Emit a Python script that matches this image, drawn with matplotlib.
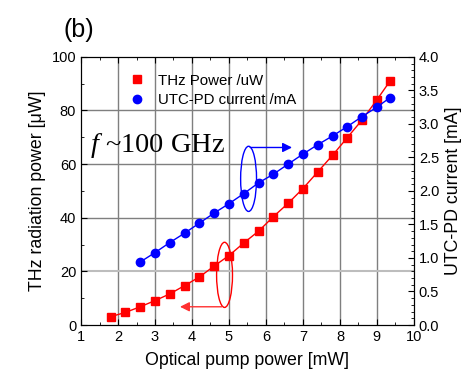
import matplotlib
matplotlib.use("Agg")
import matplotlib.pyplot as plt
from matplotlib.patches import Ellipse
from matplotlib.lines import Line2D

plt.rcParams['font.family'] = ['Liberation Sans', 'DejaVu Sans']
plt.rcParams['mathtext.fontset'] = 'custom'
plt.rcParams['mathtext.it'] = 'Liberation Serif:italic'
plt.rcParams['mathtext.rm'] = 'Liberation Serif'

# Data
thz_pump = [1.8, 2.2, 2.6, 3.0, 3.4, 3.8, 4.2, 4.6, 5.0, 5.4, 5.8, 6.2, 6.6, 7.0, 7.4, 7.8, 8.2, 8.6, 9.0, 9.35]
thz_power = [3.1, 4.7, 6.8, 9.1, 11.6, 14.7, 17.9, 22.0, 25.9, 30.6, 35.0, 40.4, 45.4, 50.9, 57.1, 63.3, 69.9, 76.5, 84.0, 90.9]
pd_pump = [2.6, 3.0, 3.4, 3.8, 4.2, 4.6, 5.0, 5.4, 5.8, 6.2, 6.6, 7.0, 7.4, 7.8, 8.2, 8.6, 9.0, 9.35]
pd_current = [0.94, 1.08, 1.23, 1.37, 1.52, 1.67, 1.81, 1.96, 2.12, 2.25, 2.40, 2.55, 2.69, 2.82, 2.96, 3.11, 3.25, 3.39]

x_ticks = list(range(1, 11))
y_ticks = [0, 20, 40, 60, 80, 100]
y2_ticks = [0.0, 0.5, 1.0, 1.5, 2.0, 2.5, 3.0, 3.5, 4.0]

fig = plt.figure(figsize=(4.63, 3.74), dpi=100)
ax = fig.add_axes([0.175, 0.131, 0.719, 0.717])
ax2 = ax.twinx()

ax.set_xlim(1, 10)
ax.set_ylim(0, 100)
ax2.set_ylim(0, 4.0)

# grid
for xv in x_ticks[1:-1]:
    ax.axvline(xv, color='#7f7f7f', lw=1.0, zorder=0)
for yv in y_ticks[1:-1]:
    ax.axhline(yv, color='#bdbdbd' if yv == 20 else '#7f7f7f', lw=1.5 if yv == 20 else 1.0, zorder=0)

ax.plot(thz_pump, thz_power, color='red', marker='s', ms=5.5, lw=1.0, zorder=3)
ax2.plot(pd_pump, pd_current, color='blue', marker='o', ms=6, lw=1.0, zorder=3)

ax.set_xticks(x_ticks)
ax.set_xticks([v + 0.5 for v in x_ticks[:-1]], minor=True)
ax.set_yticks(y_ticks)
ax.set_yticks([10, 30, 50, 70, 90], minor=True)
ax2.set_yticks(y2_ticks)
ax2.set_yticklabels(['%.1f' % v for v in y2_ticks])
ax2.set_yticks([i * 0.1 for i in range(41)], minor=True)

ax.tick_params(axis='both', which='both', direction='in', top=True, labelsize=10.5)
ax.tick_params(which='major', length=4)
ax.tick_params(which='minor', length=2.5)
ax.tick_params(axis='y', right=False)
ax2.tick_params(axis='y', which='both', direction='in', labelsize=10.5)
ax2.tick_params(which='major', length=4)
ax2.tick_params(which='minor', length=2)

ax.set_xlabel('Optical pump power [mW]', fontsize=12.8, labelpad=6)
ax.set_ylabel('THz radiation power [\u03bcW]', fontsize=12.8, labelpad=4)
ax2.set_ylabel('UTC-PD current [mA]', fontsize=12.8, labelpad=4)

# annotations
ax.add_patch(Ellipse((5.53, 54.5), 0.43, 24.3, fill=False, ec='blue', lw=1.0, zorder=4))
ax.annotate('', xy=(6.78, 66.2), xytext=(5.5, 66.2),
            arrowprops=dict(arrowstyle='-|>', color='blue', lw=1.0, mutation_scale=14), zorder=4)
ax.add_patch(Ellipse((4.88, 18.7), 0.43, 24.3, fill=False, ec='red', lw=1.0, zorder=4))
ax.annotate('', xy=(3.6, 6.8), xytext=(4.88, 6.8),
            arrowprops=dict(arrowstyle='-|>', color='#ff3030', lw=1.0, mutation_scale=14), zorder=4)

ax.text(1.24, 64.7, r'$f$ ~100 GHz', family='Liberation Serif', fontsize=20.5, va='baseline', ha='left')

handles = [Line2D([], [], color='red', marker='s', ls='none', ms=5.5),
           Line2D([], [], color='blue', marker='o', ls='none', ms=6)]
ax.legend(handles, ['THz Power /uW', 'UTC-PD current /mA'], frameon=False, fontsize=10.8,
          loc='upper left', bbox_to_anchor=(0.105, 0.988), handlelength=1.0,
          handletextpad=0.9, labelspacing=0.35)

fig.text(0.137, 0.90, '(b)', fontsize=18)

fig.savefig('out.png', dpi=100)
